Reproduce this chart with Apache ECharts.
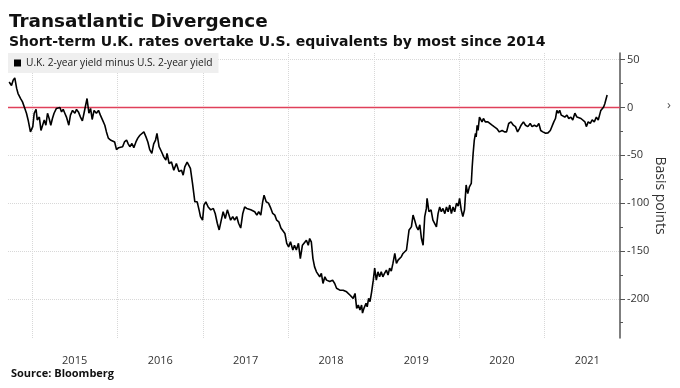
<!DOCTYPE html>
<html><head><meta charset="utf-8">
<script src="https://cdn.jsdelivr.net/npm/echarts@6/dist/echarts.min.js"></script>
<style>html,body{margin:0;padding:0;background:#fff}#c{width:680px;height:388px}</style>
</head><body><div id="c"></div>
<script>
const seriesName = 'U.K. 2-year yield minus U.S. 2-year yield';
const dates = [
'2014-09-25','2014-10-05','2014-10-12','2014-10-19','2014-10-27','2014-11-02','2014-11-13','2014-11-21','2014-12-01','2014-12-08','2014-12-15','2014-12-25',
'2015-01-04','2015-01-10','2015-01-18','2015-01-23','2015-02-01','2015-02-08','2015-02-15','2015-02-22','2015-03-01','2015-03-08','2015-03-15','2015-03-22','2015-03-29','2015-04-05','2015-04-15','2015-04-22','2015-04-30','2015-05-07','2015-05-14','2015-05-21','2015-05-28','2015-06-07','2015-06-14','2015-06-23','2015-07-03','2015-07-10','2015-07-18','2015-07-27','2015-08-04','2015-08-11','2015-08-18','2015-08-24','2015-09-01','2015-09-08','2015-09-15','2015-09-23','2015-10-03','2015-10-12','2015-10-20','2015-10-29','2015-11-08','2015-11-15','2015-11-23','2015-12-02','2015-12-10','2015-12-20','2015-12-28',
'2016-01-06','2016-01-14','2016-01-23','2016-01-31','2016-02-09','2016-02-16','2016-02-23','2016-03-03','2016-03-11','2016-03-20','2016-03-28','2016-04-06','2016-04-14','2016-04-23','2016-05-02','2016-05-10','2016-05-18','2016-05-27','2016-06-04','2016-06-12','2016-06-18','2016-06-27','2016-06-30','2016-07-07','2016-07-17','2016-07-26','2016-07-31','2016-08-09','2016-08-19','2016-08-29','2016-09-09','2016-09-20','2016-10-01','2016-10-08','2016-10-15','2016-10-25','2016-11-02','2016-11-08','2016-11-17','2016-11-27','2016-12-07','2016-12-15','2016-12-21','2016-12-30',
'2017-01-05','2017-01-13','2017-01-23','2017-02-03','2017-02-14','2017-02-22','2017-03-03','2017-03-11','2017-03-20','2017-03-28','2017-04-06','2017-04-15','2017-04-22','2017-04-29','2017-05-08','2017-05-16','2017-05-25','2017-06-02','2017-06-11','2017-06-20','2017-06-28','2017-07-07','2017-07-15','2017-07-24','2017-08-01','2017-08-10','2017-08-19','2017-08-27','2017-09-05','2017-09-13','2017-09-19','2017-09-28','2017-10-08','2017-10-18','2017-10-26','2017-11-04','2017-11-12','2017-11-21','2017-11-30','2017-12-08','2017-12-17','2017-12-25',
'2018-01-02','2018-01-10','2018-01-20','2018-01-27','2018-02-04','2018-02-13','2018-02-21','2018-03-02','2018-03-10','2018-03-19','2018-03-27','2018-04-02','2018-04-09','2018-04-16','2018-04-23','2018-05-01','2018-05-08','2018-05-15','2018-05-22','2018-05-29','2018-06-06','2018-06-13','2018-06-20','2018-06-27','2018-07-09','2018-07-18','2018-07-26','2018-08-01','2018-08-09','2018-08-16','2018-08-23','2018-08-30','2018-09-07','2018-09-13','2018-09-21','2018-09-28','2018-10-05','2018-10-13','2018-10-20','2018-10-27','2018-11-03','2018-11-10','2018-11-14','2018-11-20','2018-11-29','2018-12-04','2018-12-10','2018-12-16','2018-12-23','2018-12-30',
'2019-01-05','2019-01-12','2019-01-19','2019-01-26','2019-02-02','2019-02-09','2019-02-16','2019-02-24','2019-03-03','2019-03-10','2019-03-17','2019-03-24','2019-04-01','2019-04-08','2019-04-15','2019-04-22','2019-04-29','2019-05-06','2019-05-13','2019-05-21','2019-05-28','2019-06-01','2019-06-07','2019-06-11','2019-06-18','2019-06-25','2019-07-03','2019-07-10','2019-07-17','2019-07-24','2019-07-31','2019-08-07','2019-08-14','2019-08-17','2019-08-25','2019-09-03','2019-09-11','2019-09-19','2019-09-26','2019-10-03','2019-10-10','2019-10-17','2019-10-24','2019-11-01','2019-11-08','2019-11-15','2019-11-22','2019-11-29','2019-12-06','2019-12-13','2019-12-21','2019-12-28',
'2020-01-03','2020-01-10','2020-01-17','2020-01-24','2020-01-31','2020-02-07','2020-02-14','2020-02-22','2020-02-26','2020-03-01','2020-03-06','2020-03-11','2020-03-14','2020-03-18','2020-03-22','2020-03-28','2020-04-02','2020-04-08','2020-04-14','2020-04-22','2020-05-03','2020-05-10','2020-05-21','2020-05-31','2020-06-10','2020-06-21','2020-07-03','2020-07-13','2020-07-22','2020-07-31','2020-08-10','2020-08-20','2020-08-29','2020-09-07','2020-09-15','2020-09-22','2020-10-02','2020-10-11','2020-10-21','2020-10-31','2020-11-08','2020-11-18','2020-11-28','2020-12-07','2020-12-15','2020-12-24',
'2021-01-05','2021-01-15','2021-01-25','2021-02-02','2021-02-09','2021-02-16','2021-02-22','2021-02-28','2021-03-06','2021-03-13','2021-03-20','2021-03-28','2021-04-06','2021-04-14','2021-04-23','2021-05-01','2021-05-10','2021-05-19','2021-05-27','2021-06-05','2021-06-13','2021-06-22','2021-06-28','2021-07-06','2021-07-15','2021-07-23','2021-08-01','2021-08-10','2021-08-18','2021-08-24','2021-08-29','2021-09-04','2021-09-10','2021-09-15','2021-09-21','2021-09-25'
];
const spread = [
26.7,23,28.5,31,20,14.6,9.4,5.9,-1,-6,-13,-25.5,
-20,-6,-2,-13,-10,-24,-25.5,-13,-18.5,-6,-11.5,-18.5,-11.5,-6,-1,-3,0,-4.6,-2,-6,-10,-18.5,-8,-3,-6,-2,-4.6,-10,-14,-6,-8,9.4,-6,-1,-12.5,-3,-6,-3,-8,-13,-18.5,-25.5,-32,-34,-32,-36,-44,
-42,-44,-41,-36,-34,-38,-41,-37.6,-42,-36,-32,-29,-30.7,-25.5,-30.7,-36,-44,-48,-38,-34,-27,-41,-43,-46,-51.6,-55,-48,-58.5,-57,-65.5,-58.5,-67,-65.5,-70.7,-62,-57,-58.5,-63.7,-79.4,-98.6,-98.6,-107,-114,-117.8,
-102,-98.6,-104,-107,-105.5,-110.8,-121,-128,-117.8,-109,-116,-107,-105.5,-117.8,-114,-117.8,-114,-121,-126,-110.8,-104,-105.5,-107,-107,-109,-109,-112.5,-109,-112.5,-98.6,-91.6,-98.6,-100,-105.5,-110.8,-112.5,-117.8,-119.5,-126,-128,-131.7,-142,
-145.7,-140.4,-149,-144,-149,-142,-158,-144,-142,-138.7,-144,-137,-140.4,-158,-166.6,-171.8,-173.5,-177,-173.5,-184,-177,-180.5,-178.7,-182,-180.5,-184,-189,-187.4,-191,-189,-191,-189,-192.7,-194.4,-196,-198,-199.6,-194.4,-210,-206.6,-211.8,-206.6,-215,-210,-204.8,-208.4,-199.6,-203,-192.7,-180.5,
-168,-180.5,-171.8,-177,-171.8,-177,-173.5,-170,-175.2,-168,-171,-163,-152.6,-163,-159.6,-157.8,-156,-152.6,-154.3,-149,-151,-128,-130,-124.8,-112.5,-117.8,-124.8,-128,-122.6,-137,-144,-114,-105.5,-95,-109,-107,-117.8,-116,-124.8,-111,-104,-109,-105.5,-111,-104,-109,-102,-111,-104,-109,-100,-103,
-95,-107,-114,-107,-81,-90,-83,-79.4,-62,-48,-34,-27,-30.7,-18.5,-24,-10,-8,-15,-11.5,-15,-15,-16.7,-18.5,-20.3,-22,-25.5,-24,-25.5,-25.5,-16.7,-15,-18.5,-20,-25.5,-22,-18.5,-15,-18.5,-20,-16.7,-20,-18.5,-20,-16.7,-24,-25.5,
-27,-26.5,-24,-22,-15,-11.5,-3,-6,-3,-8,-6.5,-10,-8,-11.5,-10,-13,-6,-10,-8,-11.5,-10,-15,-20,-15,-16.7,-13,-15,-10,-13,-11.5,-3,-4.6,0.6,4,9.4,13
];
const yearStarts = ['2015-01-01','2016-01-01','2017-01-01','2018-01-01','2019-01-01','2020-01-01','2021-01-01'];
const yearLabelDates = ['2015-07-02','2016-07-02','2017-07-02','2018-07-02','2019-07-02','2020-07-02','2021-07-02'];
const yMajorTicks = [50, 0, -50, -100, -150, -200];
const yMinorTicks = [25, -25, -75, -125, -175, -225];
const xRange = ['2014-09-20', '2021-11-19'];
const yRange = [-241, 57];
const zeroLine = 0;

const P = s => Date.UTC(+s.slice(0,4), +s.slice(5,7) - 1, +s.slice(8,10));
const FONT = 'Open Sans';
const TFONT = 'DejaVu Sans';
const RED = '#e0405a';
const chart = echarts.init(document.getElementById('c'), null, {renderer: 'canvas'});
chart.setOption({
  animation: false,
  backgroundColor: '#fff',
  textStyle: {fontFamily: FONT},
  title: [
    {text: 'Transatlantic Divergence', left: 9, top: 13, padding: 0,
     textStyle: {fontFamily: TFONT, fontSize: 18.4, fontWeight: 'bold', color: '#111'}},
    {text: 'Short-term U.K. rates overtake U.S. equivalents by most since 2014', left: 9, top: 35, padding: 0,
     textStyle: {fontFamily: TFONT, fontSize: 14, fontWeight: 'bold', color: '#111'}},
    {text: 'Source: Bloomberg', left: 11, top: 368, padding: 0,
     textStyle: {fontFamily: FONT, fontSize: 11, fontWeight: 'bold', color: '#111'}}
  ],
  legend: {
    data: [seriesName], left: 8, top: 53, icon: 'rect', itemWidth: 7, itemHeight: 7,
    backgroundColor: '#efefef', padding: [5, 6, 5, 6],
    textStyle: {fontFamily: FONT, fontSize: 10.2, color: '#222'}
  },
  grid: {left: 8, right: 60, top: 53, bottom: 50, containLabel: false, outerBoundsMode: 'none'},
  xAxis: {
    type: 'value', min: P(xRange[0]), max: P(xRange[1]),
    axisLine: {show: false, onZero: false},
    axisTick: {show: false, customValues: yearStarts.map(P)},
    axisLabel: {customValues: yearLabelDates.map(P), margin: 17, fontSize: 11, color: '#333', fontFamily: FONT,
      formatter: v => String(new Date(v).getUTCFullYear())},
    splitLine: {show: true, lineStyle: {color: '#d8d8d8', type: 'dotted', width: 1}}
  },
  yAxis: [{
    type: 'value', position: 'right', min: yRange[0], max: yRange[1],
    axisLine: {show: true, lineStyle: {color: '#555', width: 1.5}},
    axisTick: {show: true, customValues: yMajorTicks, length: 5, lineStyle: {color: '#555', width: 1}},
    axisLabel: {customValues: yMajorTicks, margin: 7, fontSize: 11, color: '#333', fontFamily: FONT},
    splitLine: {show: true, lineStyle: {color: '#d8d8d8', type: 'dotted', width: 1}},
    name: 'Basis points', nameLocation: 'middle', nameRotate: -90, nameGap: 33, nameMoveOverlap: false,
    nameTextStyle: {fontSize: 14, color: '#333', fontFamily: FONT}
  }, {
    type: 'value', position: 'right', min: yRange[0], max: yRange[1],
    axisLine: {show: false},
    axisTick: {show: true, customValues: yMinorTicks, length: 3, lineStyle: {color: '#555', width: 1}},
    axisLabel: {show: false},
    splitLine: {show: false}
  }],
  series: [{
    name: 'zero', type: 'line', showSymbol: false, symbol: 'none', z: 2, silent: true,
    data: [[P(xRange[0]), zeroLine], [P(xRange[1]), zeroLine]],
    lineStyle: {color: RED, width: 1.3, type: 'solid'}, itemStyle: {color: RED}
  }, {
    name: seriesName, type: 'line', showSymbol: false, symbol: 'none', z: 3,
    data: dates.map((d, i) => [P(d), spread[i]]),
    lineStyle: {color: '#000', width: 1.6}, itemStyle: {color: '#000'}
  }],
  graphic: [{type: 'text', left: 667, top: 99, style: {text: '\u203A', fontSize: 13, fill: '#555', fontFamily: FONT}}]
});
</script></body></html>
